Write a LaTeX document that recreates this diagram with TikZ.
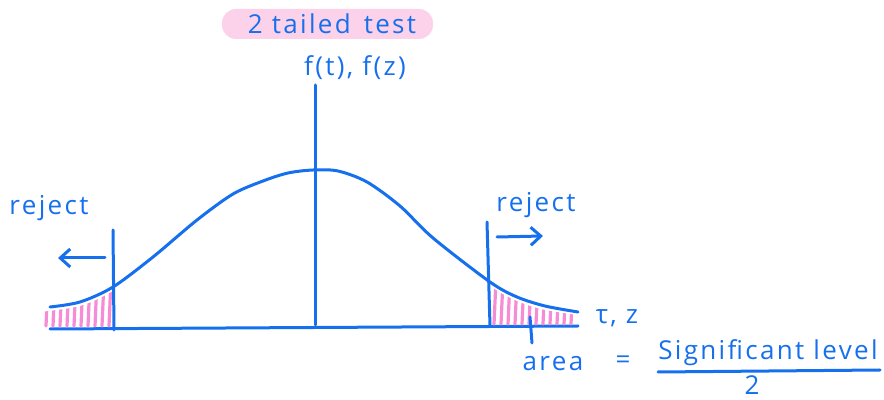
\documentclass[tikz,border=0pt]{standalone}
\usepackage{fontspec}
\setmainfont{Open Sans}
\newfontfamily\handfont[LetterSpace=9]{Open Sans}
\usetikzlibrary{arrows.meta}
\definecolor{penblue}{RGB}{22,112,238}
\definecolor{hatchpink}{RGB}{246,140,214}
\definecolor{markpink}{RGB}{252,210,234}

\begin{document}
\begin{tikzpicture}[x=0.5pt,y=-0.5pt,line cap=round,line join=round,
		pen/.style={penblue,line width=1.5pt},
		hand/.style={penblue,inner sep=0pt,font=\handfont\fontsize{13}{15}\selectfont},
		hatch/.style={hatchpink,line width=1.6pt}]
		\useasboundingbox (0,0) rectangle (884,400);
		%% The Title
		\fill[markpink,rounded corners=7pt] (222,9) rectangle (433,39);
		\node[hand] (title) at (332,24) {2 tailed\enspace test};
		\node[hand] (fz) at (355,68) {f(t), f(z)};
		%% The Axes
		\draw[pen] (315,85) coordinate (ytop) -- (315,325) coordinate (origin);
		\draw[pen] (50,329) coordinate (xleft) -- (578,326) coordinate (xright);
		\node[hand] (tz) at (617,318) {τ, z};
		%% The Tails
		\begin{scope}
			\clip[yshift=-2pt] plot[smooth] coordinates {(40,308) (80,302) (113,287) (153,257) (197,220) (233,194) (263,181) (288,173) (313,170) (338,171) (367,182) (400,206) (433,238) (490,282) (517,297) (545,306) (585,312)} -- (585,340) -- (40,340) -- cycle;
			\foreach \x in {46,53,...,109}
				\draw[hatch] (\x,326) -- (\x+2,280);
			\foreach \x in {494,501,...,575}
				\draw[hatch] (\x,324) -- (\x+2,280);
		\end{scope}
		%% The Bell Curve
		\draw[pen] plot[smooth] coordinates {(50,307) (80,302) (113,287) (153,257) (197,220) (233,194) (263,181) (288,173) (313,170) (338,171) (367,182) (400,206) (433,238) (490,282) (517,297) (545,306) (578,312)};
		%% The Cuts
		\draw[pen] (113,230) -- (114,330);
		\draw[pen] (487,222) -- (490,326);
		\draw[pen,-{Straight Barb[length=5pt,width=9pt]}] (105,258) coordinate (la) -- (58,258) coordinate (lb);
		\draw[pen,-{Straight Barb[length=5pt,width=9pt]}] (497,237) coordinate (ra) -- (543,236) coordinate (rb);
		\node[hand] (rejectl) at (49,208) {reject};
		\node[hand] (rejectr) at (536,205) {reject};
		%% The Area
		\draw[pen] (530,317) coordinate (tick) -- (532,343) coordinate (tickend);
		\node[hand] (area) at (553,364) {area};
		\node[hand] (eq) at (623,362) {=};
		\node[hand] (num) at (768,353) {Significant level};
		\draw[pen] (658,372) coordinate (barl) -- (880,370) coordinate (barr);
		\node[hand] (den) at (752,385) {2};
\end{tikzpicture}
\end{document}
